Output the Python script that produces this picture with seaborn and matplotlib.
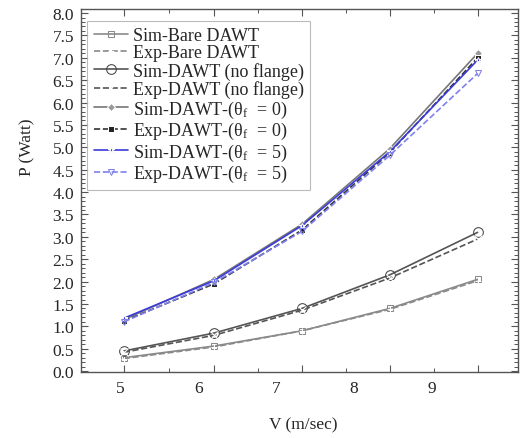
import matplotlib
matplotlib.use("Agg")
import matplotlib.pyplot as plt
import seaborn as sns
import numpy as np

# Data
V = [5.04, 6.20, 7.33, 8.46, 9.59]
xtick_labels = [5, 6, 7, 8, 9]
sim_bare = [0.30, 0.56, 0.90, 1.40, 2.05]
exp_bare = [0.28, 0.54, 0.90, 1.38, 2.02]
sim_noflange = [0.45, 0.85, 1.40, 2.15, 3.10]
exp_noflange = [0.42, 0.80, 1.36, 2.08, 2.95]
sim_th0 = [1.15, 2.05, 3.28, 4.97, 7.10]
exp_th0 = [1.12, 1.95, 3.15, 4.88, 7.00]
sim_th5 = [1.18, 2.02, 3.25, 4.90, 6.95]
exp_th5 = [1.10, 1.98, 3.12, 4.82, 6.65]
labels = ["Sim-Bare DAWT", "Exp-Bare DAWT", "Sim-DAWT (no flange)",
          "Exp-DAWT (no flange)", "Sim-DAWT-(θ$_\\mathrm{f}$  = 0)",
          "Exp-DAWT-(θ$_\\mathrm{f}$  = 0)", "Sim-DAWT-(θ$_\\mathrm{f}$  = 5)",
          "Exp-DAWT-(θ$_\\mathrm{f}$  = 5)"]

sns.set_style("white")
plt.rcParams['font.family'] = ['Liberation Serif', 'DejaVu Serif']
plt.rcParams['mathtext.fontset'] = 'custom'
plt.rcParams['mathtext.rm'] = 'Liberation Serif'
plt.rcParams['mathtext.it'] = 'Liberation Serif:italic'

fig = plt.figure(figsize=(5.2, 4.39), dpi=100)
ax = fig.add_axes([0.1558, 0.1503, 0.8404, 0.8269])

styles = [
    (sim_bare, dict(color="#8a8a8a", linestyle="-", marker="s", markersize=4, markerfacecolor="none", markeredgecolor="#8a8a8a")),
    (exp_bare, dict(color="#8a8a8a", linestyle="--", marker="+", markersize=5)),
    (sim_noflange, dict(color="#555555", linestyle="-", marker="o", markersize=7, markerfacecolor="none", markeredgecolor="#444444")),
    (exp_noflange, dict(color="#555555", linestyle="--", marker="x", markersize=6)),
    (sim_th0, dict(color="#777777", linestyle="-", marker="D", markersize=4, markerfacecolor="#999999")),
    (exp_th0, dict(color="#333333", linestyle="--", marker="s", markersize=4, markerfacecolor="#222222")),
    (sim_th5, dict(color="#3b3bd9", linestyle="-", marker="*", markersize=5)),
    (exp_th5, dict(color="#8080f0", linestyle="--", marker="v", markersize=5, markerfacecolor="none", markeredgecolor="#8080f0")),
]
for (vals, kw), lab in zip(styles, labels):
    sns.lineplot(x=V, y=vals, ax=ax, label=lab, linewidth=1.2, **kw)

ax.set_xlim(4.49, 10.11)
ax.set_ylim(-0.02, 8.09)

# x: long ticks at data positions, short ticks at midpoints, labels via secondary axis
mids = [(V[i] + V[i + 1]) / 2 for i in range(len(V) - 1)]
ax.set_xticks(V)
ax.set_xticklabels([])
ax.set_xticks(mids, minor=True)
yt = np.arange(0, 8.01, 0.5)
ax.set_yticks(yt)
ax.set_yticklabels([f"{v:.1f}" for v in yt])
ax.set_yticks(np.arange(0, 8.09, 0.1), minor=True)
ax.tick_params(axis='both', which='both', direction='in', bottom=True, left=True,
               top=True, right=True, color="#555555")
ax.tick_params(axis='both', which='major', length=5, width=0.8, labelsize=12.5)
ax.tick_params(axis='both', which='minor', length=3, width=0.7)
ax.tick_params(axis='y', which='major', pad=5)

sec = ax.secondary_xaxis('bottom')
sec.set_xticks(xtick_labels)
sec.set_xticklabels([str(v) for v in xtick_labels])
sec.tick_params(length=0, pad=6, labelsize=12.5)
sec.spines['bottom'].set_visible(False)

for s in ax.spines.values():
    s.set_color("#555555")
    s.set_linewidth(1.0)

ax.set_ylabel("P (Watt)", fontsize=12.5)
ax.yaxis.set_label_coords(-0.105, 0.623)
ax.set_xlabel("")
fig.text(0.583, 0.032, "V (m/sec)", fontsize=12.5, ha="center", va="center")

leg = ax.legend(loc="upper left", bbox_to_anchor=(0.0, 0.985), fontsize=13, frameon=True,
                fancybox=False, edgecolor="#aaaaaa", labelspacing=0.02, handlelength=1.9,
                handletextpad=0.28, borderpad=0.35, borderaxespad=0.35)
leg.get_frame().set_linewidth(0.8)

fig.savefig("out.png", dpi=100)
